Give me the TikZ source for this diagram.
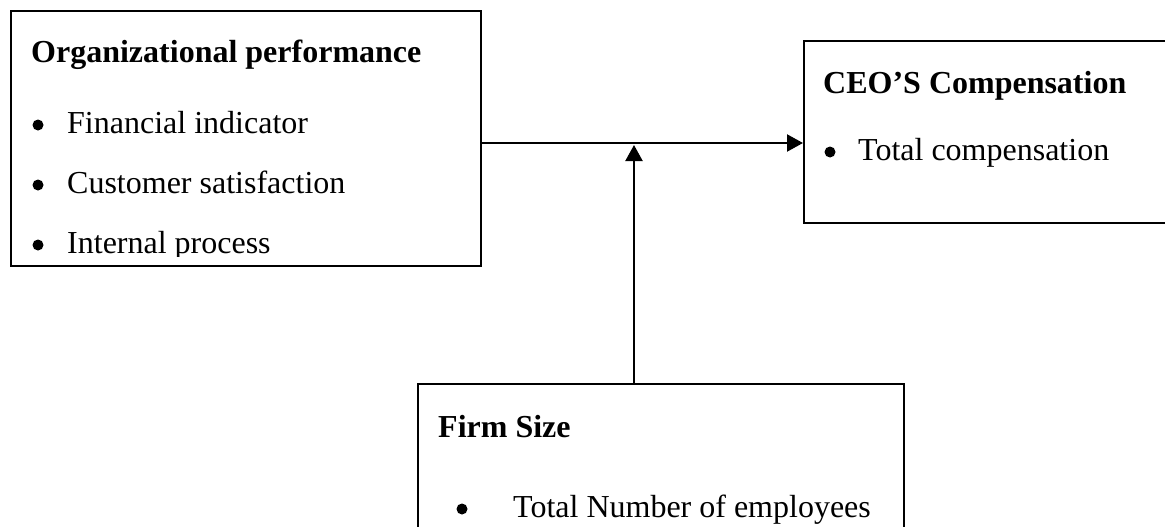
\documentclass[tikz,border=0pt]{standalone}
\usepackage{fontspec}
\setmainfont{Liberation Serif}
\usetikzlibrary{arrows.meta}
\begin{document}
\begin{tikzpicture}[x=1pt,y=-1pt,
  box/.style={draw, line width=2.2pt, anchor=north west, inner sep=0pt},
  txt/.style={anchor=base west, inner sep=0pt, font=\fontsize{32}{38}\selectfont},
  head/.style={anchor=base west, inner sep=0pt, font=\fontsize{32}{38}\selectfont\bfseries},
  bul/.style={circle, fill, inner sep=0pt, minimum size=11pt},
  conn/.style={line width=2.2pt, -{Triangle[length=16pt,width=17pt]}}
]
\useasboundingbox (0,0) rectangle (1165,527);
\clip (0,0) rectangle (1165,527);
\node[box, minimum width=470pt, minimum height=255pt] (perf) at (10,10) {};
\node[box, minimum width=380pt, minimum height=182pt] (ceo) at (803,40) {};
\node[box, minimum width=486pt, minimum height=170pt] (firm) at (417,383) {};
\begin{scope}
\clip (10,10) rectangle (480,256);
\node[head] (t1) at (31,63) {Organizational performance};
\node[bul] (b1) at (38,125) {};
\node[txt] (i1) at (67,133) {Financial indicator};
\node[bul] (b2) at (38,185) {};
\node[txt] (i2) at (67,193) {Customer satisfaction};
\node[bul] (b3) at (38,245) {};
\node[txt] (i3) at (67,253) {Internal process};
\end{scope}
\node[head] (t2) at (823,93) {CEO’S Compensation};
\node[bul] (b4) at (830,152) {};
\node[txt] (i4) at (858,160) {Total compensation};
\node[head] (t3) at (438,437) {Firm Size};
\node[bul] (b5) at (462,509) {};
\node[txt] (i5) at (513,517) {Total Number of employees};
\coordinate (j) at (634,143);
\draw[conn] (perf.east |- j) -- (ceo.west |- j);
\draw[conn] (firm.north -| j) -- ([yshift=-2pt]j);
\end{tikzpicture}
\end{document}
